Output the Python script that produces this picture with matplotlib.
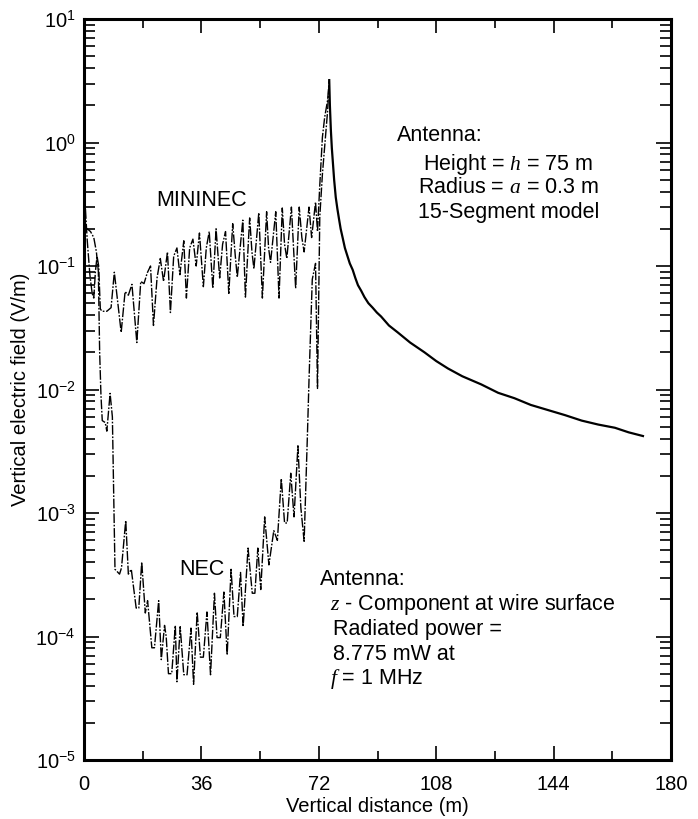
import matplotlib
matplotlib.use("Agg")
import matplotlib.pyplot as plt
from matplotlib.ticker import FixedLocator, LogFormatterMathtext, NullFormatter

plt.rcParams['font.family'] = ['Liberation Sans', 'DejaVu Sans']
plt.rcParams['mathtext.fontset'] = 'custom'
plt.rcParams['mathtext.rm'] = 'Liberation Sans'
plt.rcParams['mathtext.it'] = 'Liberation Serif:italic'

# ---------------- data ----------------
mininec_x = [0, 0.4, 1.0, 1.8, 2.5, 3.0, 3.5, 4.0, 4.5, 5.0, 5.5, 7.0, 8.3,
             9.3, 10.2, 11.4, 12.6, 13.6, 14.7, 16.2, 17.4, 18.4, 19.4, 20.4, 21.3,
             22.4, 23.4, 24.4, 25.6, 26.5, 27.5, 28.5, 29.4, 30.6, 31.4, 32.4, 33.4,
             34.4, 35.4, 36.6, 37.5, 38.4, 39.5, 40.5, 41.6, 42.5, 43.4, 44.4, 45.6,
             46.4, 47.0, 48.7, 49.5, 50.8, 51.5, 52.1, 53.6, 54.7, 56.0, 56.6, 57.2,
             58.8, 59.8, 60.8, 61.5, 62.2, 63.6, 64.9, 66.0, 66.8, 67.5, 69.0, 69.8,
             71.0, 71.6, 72.3, 73.1, 73.8, 74.7, 75.2]
mininec_y = [0.50, 0.30, 0.16, 0.085, 0.060, 0.055, 0.09, 0.12, 0.10, 0.045, 0.043, 0.043, 0.046,
             0.089, 0.055, 0.029, 0.062, 0.058, 0.071, 0.024, 0.075, 0.072, 0.088, 0.10, 0.033,
             0.080, 0.115, 0.075, 0.13, 0.042, 0.12, 0.14, 0.085, 0.16, 0.055, 0.14, 0.165,
             0.10, 0.185, 0.068, 0.14, 0.19, 0.066, 0.20, 0.080, 0.15, 0.19, 0.060, 0.22,
             0.12, 0.081, 0.235, 0.056, 0.245, 0.13, 0.095, 0.27, 0.055, 0.275, 0.14, 0.107,
             0.275, 0.055, 0.295, 0.15, 0.115, 0.30, 0.066, 0.30, 0.17, 0.13, 0.30, 0.17,
             0.33, 0.19, 0.45, 1.1, 1.6, 2.2, 3.2]

nec_x = [0, 1.0, 2.0, 3.0, 3.8, 4.4, 4.8, 5.2, 5.6, 6.5, 7.0, 8.0, 8.7, 9.5, 10.9,
         11.5, 12.8, 13.6, 14.5, 16.0, 16.8, 17.7, 18.8, 19.5, 20.8, 21.6, 22.9, 23.7,
         24.7, 25.2, 25.9, 26.9, 28.0, 28.5, 29.5, 30.6, 31.6, 32.8, 33.6, 34.7, 35.7,
         36.6, 37.7, 38.8, 40.0, 40.8, 41.8, 42.9, 43.9, 45.1, 46.0, 47.0, 48.0, 48.8,
         50.3, 51.6, 52.4, 53.3, 54.2, 55.4, 56.7, 58.2, 59.3, 60.5, 61.5, 62.3, 63.4,
         64.4, 65.6, 66.5, 67.5, 68.5, 69.0, 70.0, 71.0, 71.6, 72.3, 73.1, 73.6, 74.7, 75.2]
nec_y = [0.20, 0.20, 0.19, 0.17, 0.13, 0.09, 0.02, 0.009, 0.0056, 0.0054, 0.0046, 0.0093, 0.006,
         0.00035, 0.00032, 0.00036, 0.00087, 0.00032, 0.00035, 0.00017, 0.00017, 0.00040,
         0.000155, 0.000195, 8.1e-5, 8.1e-5, 0.000195, 6.5e-5, 0.000123, 0.00010, 5.0e-5,
         5.0e-5, 0.000123, 4.3e-5, 0.00012, 4.9e-5, 4.9e-5, 0.000117, 4.1e-5, 0.000158,
         6.8e-5, 6.8e-5, 0.000158, 4.9e-5, 0.000224, 9.8e-5, 9.8e-5, 0.000229, 7.1e-5,
         0.00035, 0.000145, 0.000145, 0.00033, 0.00012, 0.00052, 0.000224, 0.000224,
         0.00052, 0.00024, 0.00093, 0.00038, 0.00072, 0.00060, 0.0019, 0.00083, 0.00083,
         0.0021, 0.00093, 0.0035, 0.0011, 0.00059, 0.0042, 0.012, 0.078, 0.105, 0.0102,
         0.25, 0.55, 0.80, 1.8, 3.2]

far_x = [75.2, 75.4, 75.7, 76.0, 76.3, 76.7, 77.2, 77.7, 78.2, 78.7, 79.3, 80.0, 80.8,
         81.5, 82.4, 83.2, 84.0, 85.0, 86.0, 87.2, 88.5, 89.8, 91.1, 93.5, 96.2, 100.0,
         104.4, 108.0, 111.6, 116.0, 121.8, 127.0, 132.0, 137.0, 142.4, 147.5, 152.6,
         157.7, 162.8, 167.0, 171.4]
far_y = [3.2, 2.0, 1.26, 0.90, 0.70, 0.50, 0.36, 0.29, 0.24, 0.20, 0.17, 0.14, 0.12,
         0.105, 0.093, 0.080, 0.070, 0.063, 0.056, 0.050, 0.046, 0.042, 0.039, 0.033, 0.029,
         0.024, 0.020, 0.017, 0.0148, 0.0128, 0.011, 0.0094, 0.0085, 0.0075, 0.0068,
         0.0062, 0.0056, 0.0052, 0.0049, 0.0045, 0.0042]

x_ticks = [0, 36, 72, 108, 144, 180]
x_minor = [18, 54, 90, 126, 162]
y_decades = [-5, -4, -3, -2, -1, 0, 1]

# ---------------- figure ----------------
fig = plt.figure(figsize=(6.98, 8.19), dpi=100)
ax = fig.add_axes([84/698, 1 - 760/819, (671-84)/698, (760-19)/819])

dashdot = (0, (7, 1.2, 1.2, 1.2))
ax.plot(mininec_x, mininec_y, color='black', lw=1.0, linestyle=dashdot)
ax.plot(nec_x, nec_y, color='black', lw=1.0, linestyle=dashdot)
ax.plot(far_x, far_y, color='black', lw=1.6, linestyle='-')

ax.set_yscale('log')
ax.set_xlim(0, 180)
ax.set_ylim(1e-5, 1e1)

y_major = [10.0 ** d for d in y_decades]
y_minor = [m * 10.0 ** d for d in y_decades[:-1] for m in range(2, 10)]
ax.xaxis.set_major_locator(FixedLocator(x_ticks))
ax.xaxis.set_minor_locator(FixedLocator(x_minor))
ax.yaxis.set_major_locator(FixedLocator(y_major))
ax.yaxis.set_minor_locator(FixedLocator(y_minor))
ax.yaxis.set_major_formatter(LogFormatterMathtext())
ax.yaxis.set_minor_formatter(NullFormatter())

ax.tick_params(which='both', direction='in', top=True, right=True, width=1.2,
               labelsize=14.5, colors='black')
ax.tick_params(axis='x', which='major', length=10, pad=11)
ax.tick_params(axis='x', which='minor', length=6.5)
ax.tick_params(axis='y', which='major', length=11, pad=6)
ax.tick_params(axis='y', which='minor', length=8)
for s in ax.spines.values():
    s.set_linewidth(2.2)

ax.set_xlabel('Vertical distance (m)', fontsize=14.5, labelpad=2)
ax.set_ylabel('Vertical electric field (V/m)', fontsize=14.5, labelpad=4)

fs = 15.5
ax.text(36.0, 0.336, 'MININEC', fontsize=fs, ha='center', va='center')
ax.text(36.0, 3.47e-4, 'NEC', fontsize=fs, ha='center', va='center')

ax.text(96.0, 1.13, 'Antenna:', fontsize=fs, ha='left', va='center')
ax.text(130.2, 0.66, 'Height = $h$ = 75 m', fontsize=fs, ha='center', va='center')
ax.text(130.2, 0.43, 'Radius = $a$ = 0.3 m', fontsize=fs, ha='center', va='center')
ax.text(130.2, 0.27, '15-Segment model', fontsize=fs, ha='center', va='center')

ax.text(72.3, 2.92e-4, 'Antenna:', fontsize=fs, ha='left', va='center')
ax.text(75.4, 1.80e-4, '$z$ - Component at wire surface', fontsize=fs, ha='left', va='center')
ax.text(76.3, 1.13e-4, 'Radiated power =', fontsize=fs, ha='left', va='center')
ax.text(76.3, 7.2e-5, '8.775 mW at', fontsize=fs, ha='left', va='center')
ax.text(75.4, 4.5e-5, '$f$ = 1 MHz', fontsize=fs, ha='left', va='center')

fig.savefig('out.png', dpi=100)
